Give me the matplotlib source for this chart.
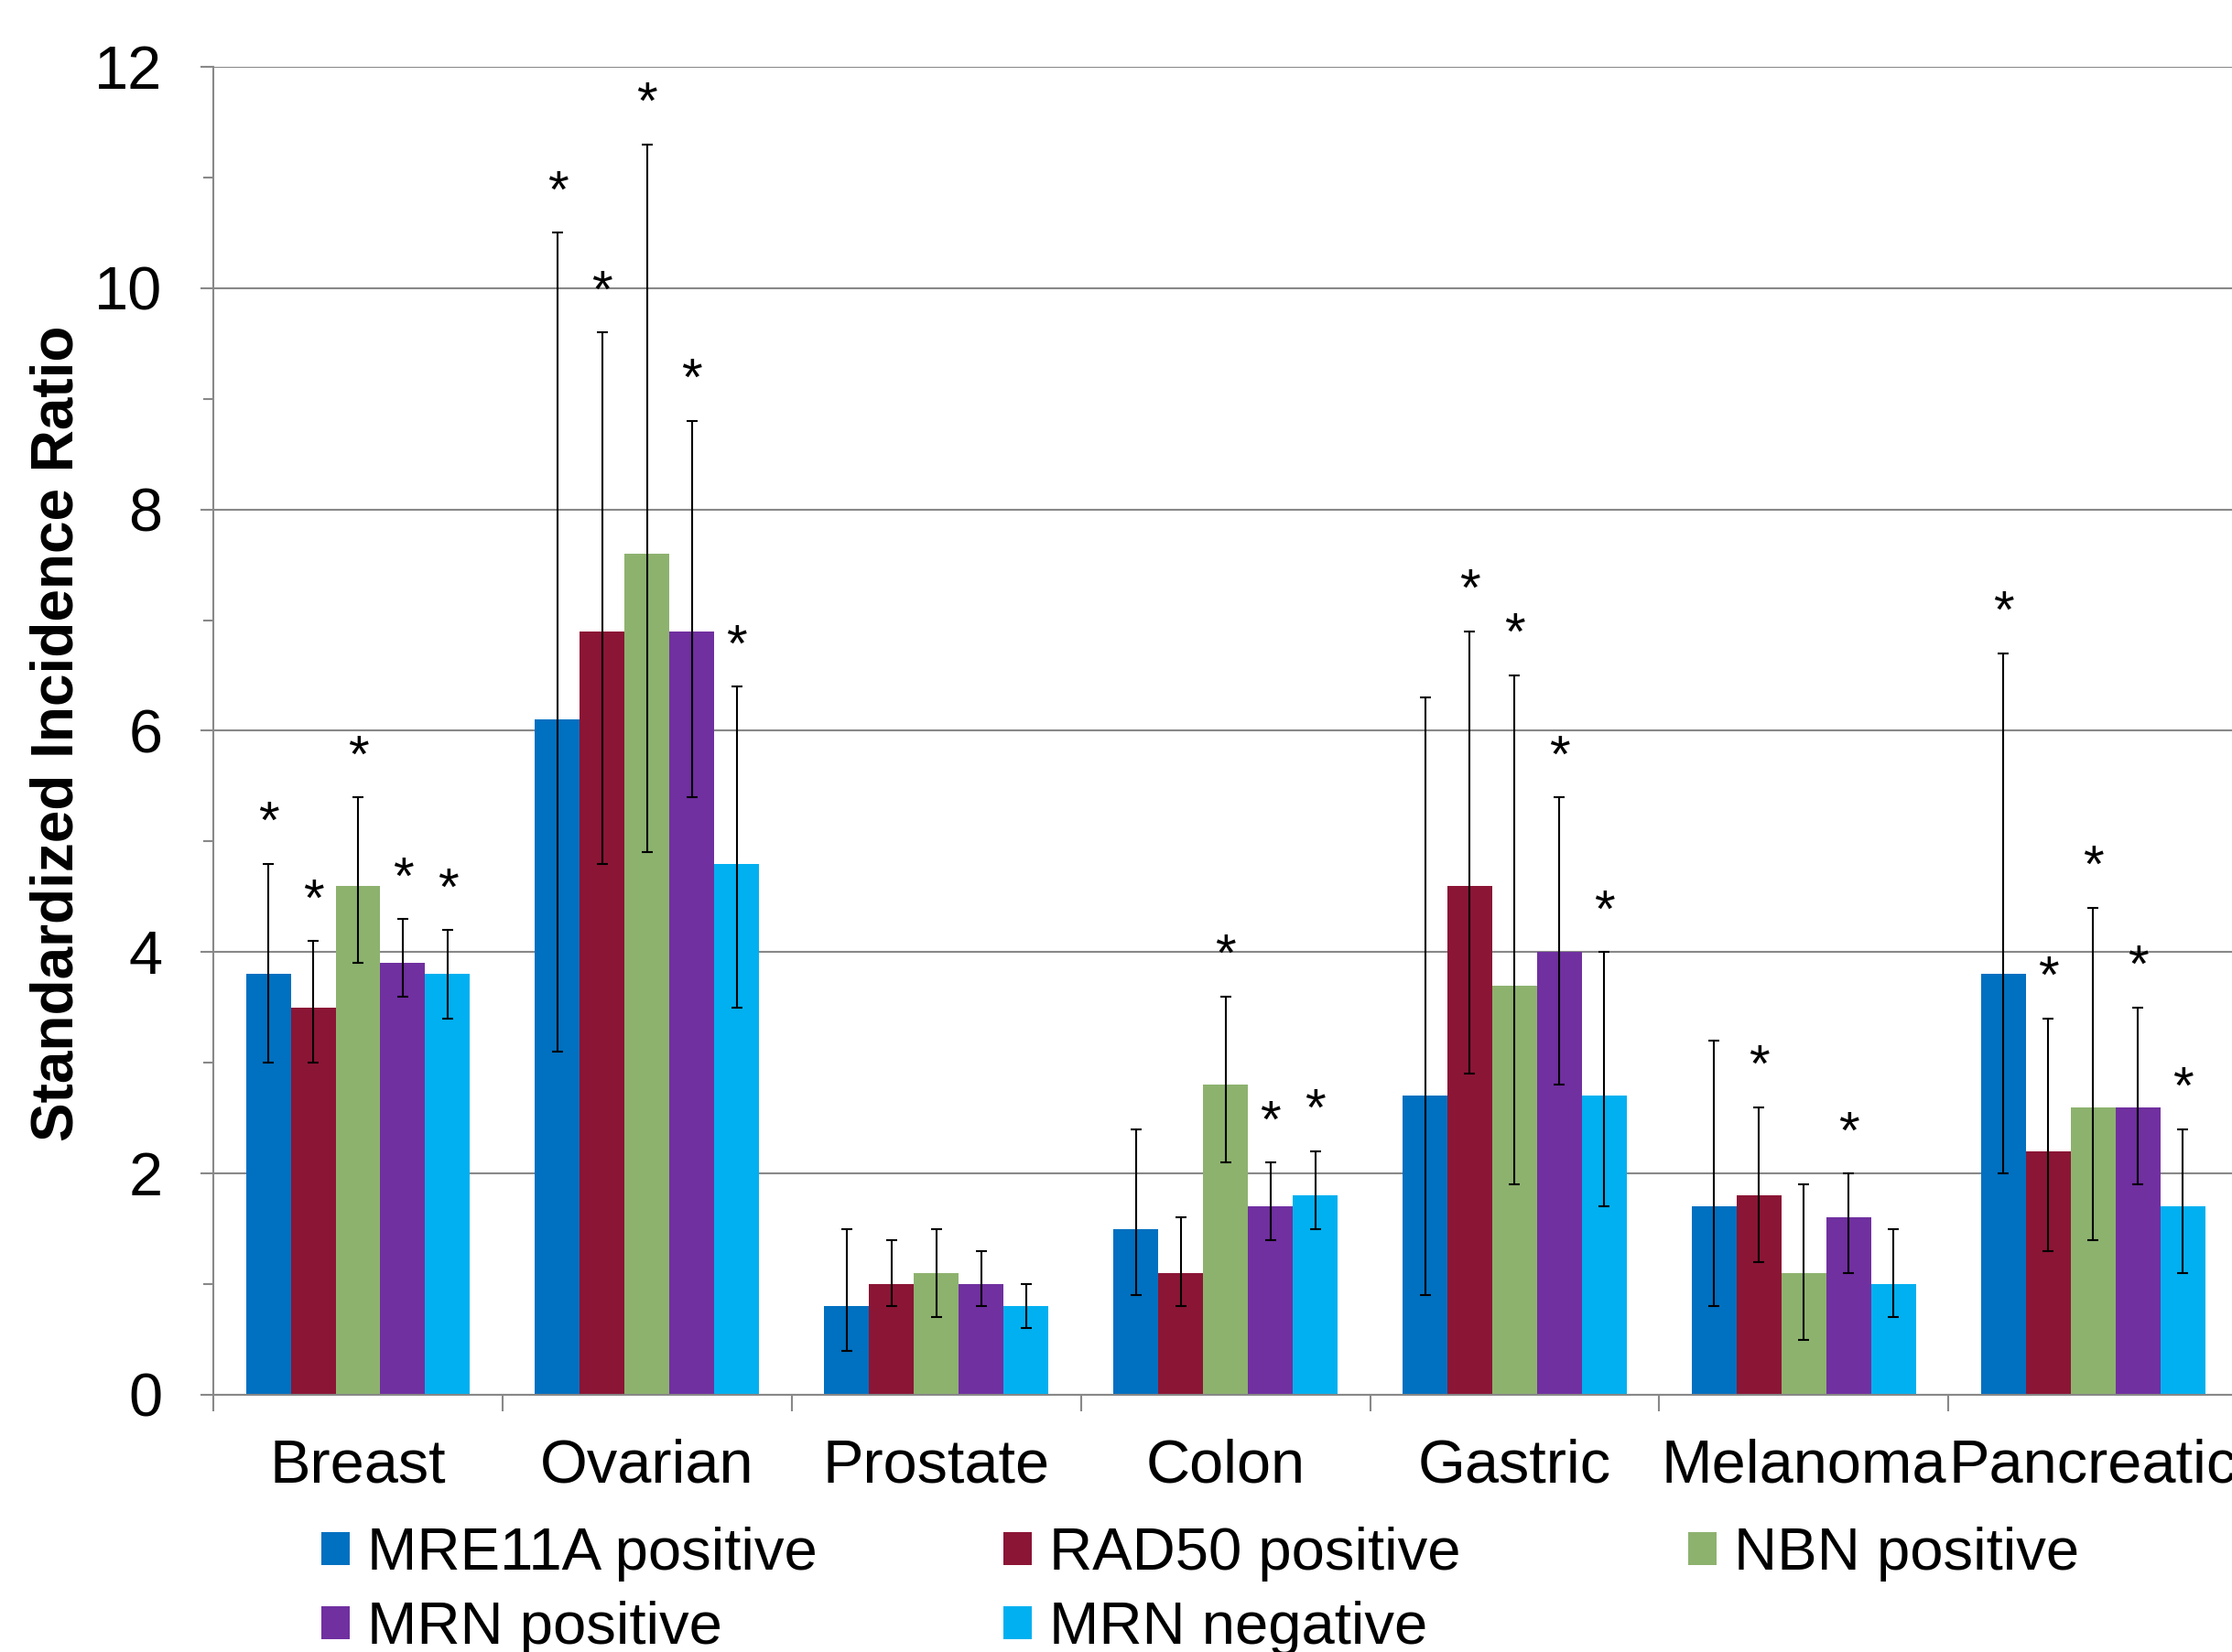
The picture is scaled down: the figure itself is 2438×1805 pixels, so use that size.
import matplotlib
matplotlib.use("Agg")
import matplotlib.pyplot as plt
import numpy as np
from matplotlib.patches import Patch

plt.rcParams['font.family'] = ['Liberation Sans', 'DejaVu Sans']

categories = ["Breast", "Ovarian", "Prostate", "Colon", "Gastric", "Melanoma", "Pancreatic"]
series = ["MRE11A positive", "RAD50 positive", "NBN positive", "MRN positive", "MRN negative"]
colors = ["#0070C0", "#8B1535", "#8DB26E", "#7030A0", "#00B0F0"]

mre11a = [3.8, 6.1, 0.8, 1.5, 2.7, 1.7, 3.8]
mre11a_lo = [3.0, 3.1, 0.4, 0.9, 0.9, 0.8, 2.0]
mre11a_hi = [4.8, 10.5, 1.5, 2.4, 6.3, 3.2, 6.7]
mre11a_sig = [1, 1, 0, 0, 0, 0, 1]

rad50 = [3.5, 6.9, 1.0, 1.1, 4.6, 1.8, 2.2]
rad50_lo = [3.0, 4.8, 0.8, 0.8, 2.9, 1.2, 1.3]
rad50_hi = [4.1, 9.6, 1.4, 1.6, 6.9, 2.6, 3.4]
rad50_sig = [1, 1, 0, 0, 1, 1, 1]

nbn = [4.6, 7.6, 1.1, 2.8, 3.7, 1.1, 2.6]
nbn_lo = [3.9, 4.9, 0.7, 2.1, 1.9, 0.5, 1.4]
nbn_hi = [5.4, 11.3, 1.5, 3.6, 6.5, 1.9, 4.4]
nbn_sig = [1, 1, 0, 1, 1, 0, 1]

mrn_pos = [3.9, 6.9, 1.0, 1.7, 4.0, 1.6, 2.6]
mrn_pos_lo = [3.6, 5.4, 0.8, 1.4, 2.8, 1.1, 1.9]
mrn_pos_hi = [4.3, 8.8, 1.3, 2.1, 5.4, 2.0, 3.5]
mrn_pos_sig = [1, 1, 0, 1, 1, 1, 1]

mrn_neg = [3.8, 4.8, 0.8, 1.8, 2.7, 1.0, 1.7]
mrn_neg_lo = [3.4, 3.5, 0.6, 1.5, 1.7, 0.7, 1.1]
mrn_neg_hi = [4.2, 6.4, 1.0, 2.2, 4.0, 1.5, 2.4]
mrn_neg_sig = [1, 1, 0, 1, 1, 0, 1]

vals = [mre11a, rad50, nbn, mrn_pos, mrn_neg]
los = [mre11a_lo, rad50_lo, nbn_lo, mrn_pos_lo, mrn_neg_lo]
his = [mre11a_hi, rad50_hi, nbn_hi, mrn_pos_hi, mrn_neg_hi]
sigs = [mre11a_sig, rad50_sig, nbn_sig, mrn_pos_sig, mrn_neg_sig]

W, H = 2438, 1805
fig = plt.figure(figsize=(W / 100, H / 100), dpi=100)
ax = fig.add_axes([0.0956, 0.1557, 0.9069, 0.8039])

x = np.arange(len(categories))
bw = 0.155
for i in range(5):
    xs = x + (i - 2) * bw
    v = np.array(vals[i]); lo = np.array(los[i]); hi = np.array(his[i])
    ax.bar(xs, v, width=bw, color=colors[i], zorder=2, linewidth=0)
    ax.errorbar(xs, v, yerr=[v - lo, hi - v], fmt='none', ecolor='black',
                elinewidth=1.5, capsize=4, capthick=1.5, zorder=3)
    for xi, h, s in zip(xs, hi, sigs[i]):
        if s:
            ax.text(xi, h + 0.13, "*", ha='center', va='bottom', fontsize=42, zorder=4)

ax.set_ylim(0, 12)
ax.set_xlim(-0.5, len(categories) - 0.5)
ax.set_yticks(np.arange(0, 13, 2))
ax.set_yticks(np.arange(1, 12, 2), minor=True)
ax.yaxis.grid(True, which='major', color='#888888', linewidth=1.5, zorder=0)
ax.set_axisbelow(True)
ax.tick_params(axis='y', which='major', labelsize=48, length=10, width=1.5, color='#888888', pad=30)
ax.tick_params(axis='y', which='minor', length=8, width=1.5, color='#888888')

ax.set_xticks(x)
ax.set_xticklabels(categories)
ax.set_xticks(np.arange(-0.5, len(categories), 1.0), minor=True)
ax.tick_params(axis='x', which='major', length=0, labelsize=48, pad=34)
ax.tick_params(axis='x', which='minor', length=13, width=1.5, color='#888888')

for side in ['top', 'right']:
    ax.spines[side].set_visible(False)
for side in ['left', 'bottom']:
    ax.spines[side].set_color('#888888')
    ax.spines[side].set_linewidth(1.5)

fig.text(0.0255, 0.556, "Standardized Incidence Ratio", rotation=90, fontsize=46,
         fontweight='bold', ha='center', va='center')

# legend: fixed grid of entries (3 columns, 2 rows); targets in pixels from top-left
col_px = [351, 1096, 1844]
row_px = [1692, 1773]
legends = []
for k, name in enumerate(series):
    r, c = divmod(k, 3)
    ax0, ay0 = col_px[c] / W, 1 - row_px[r] / H
    leg = fig.legend([Patch(facecolor=colors[k], edgecolor='none')], [name],
                     loc='center left', bbox_to_anchor=(ax0, ay0),
                     frameon=False, fontsize=47, handlelength=0.47, handleheight=0.47,
                     handletextpad=0.3, borderpad=0, borderaxespad=0)
    legends.append((leg, ax0, ay0, col_px[c], H - row_px[r]))

fig.canvas.draw()
renderer = fig.canvas.get_renderer()
for leg, ax0, ay0, tx, ty in legends:
    hb = leg.legend_handles[0].get_window_extent(renderer)
    dx = tx - hb.x0
    dy = ty - (hb.y0 + hb.y1) / 2
    leg.set_bbox_to_anchor((ax0 + dx / W, ay0 + dy / H), transform=fig.transFigure)

fig.savefig("out.png", dpi=100)
